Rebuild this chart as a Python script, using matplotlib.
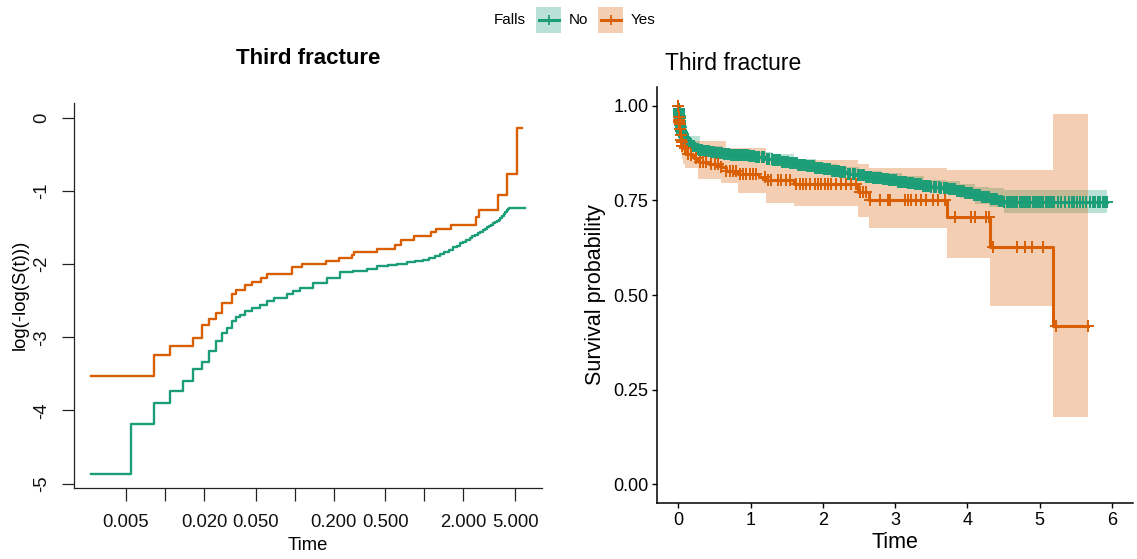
import numpy as np
import matplotlib.pyplot as plt
from matplotlib.patches import Rectangle
from matplotlib.lines import Line2D

plt.rcParams['font.family'] = ['Liberation Sans', 'DejaVu Sans']

W, H = 1137, 559

# Kaplan-Meier estimates for third fracture, split by falls history
no_time = [0.0, 0.0027, 0.0055, 0.0082, 0.011, 0.0137, 0.0164, 0.0192, 0.0218, 0.0247,
           0.0275, 0.030, 0.033, 0.0353, 0.0379, 0.0415, 0.0467, 0.0541, 0.061, 0.0686,
           0.0869, 0.0977, 0.110, 0.139, 0.176, 0.223, 0.283, 0.358, 0.428, 0.52,
           0.62, 0.73, 0.85, 0.97, 1.08, 1.20, 1.31, 1.42, 1.54, 1.66,
           1.77, 1.88, 2.00, 2.11, 2.23, 2.34, 2.46, 2.58, 2.69, 2.81,
           2.92, 3.04, 3.16, 3.27, 3.39, 3.50, 3.62, 3.73, 3.85, 3.96,
           4.08, 4.19, 4.31, 4.42, 4.50]
no_surv = [1.0, 0.9923, 0.9849, 0.9799, 0.9763, 0.9731, 0.9682, 0.9652, 0.9593, 0.9535,
           0.9485, 0.9449, 0.9399, 0.9363, 0.9343, 0.9314, 0.9283, 0.9251, 0.9217, 0.9182,
           0.9138, 0.9107, 0.9067, 0.9005, 0.8934, 0.8859, 0.8835, 0.8803, 0.8765, 0.874,
           0.8725, 0.870, 0.8685, 0.866, 0.8635, 0.860, 0.856, 0.852, 0.8475, 0.8435,
           0.840, 0.8355, 0.832, 0.828, 0.8245, 0.8205, 0.8165, 0.8125, 0.8095, 0.806,
           0.803, 0.7995, 0.7955, 0.7925, 0.789, 0.786, 0.7825, 0.7795, 0.775, 0.769,
           0.763, 0.758, 0.753, 0.749, 0.7457]
no_end = 5.93
no_band_time = [0.0, 0.0027, 0.02, 0.05, 0.1, 0.3, 0.6, 1.0, 1.3, 1.6,
                1.9, 2.2, 2.5, 2.8, 3.1, 3.4, 3.7, 3.9, 4.1, 4.3, 4.5]
no_band_lower = [1.0, 0.987, 0.958, 0.919, 0.900, 0.873, 0.863, 0.855, 0.849, 0.836,
                 0.824, 0.817, 0.805, 0.797, 0.786, 0.774, 0.766, 0.756, 0.741, 0.733,
                 0.717]
no_band_upper = [1.0, 0.997, 0.972, 0.935, 0.920, 0.894, 0.885, 0.877, 0.871, 0.859,
                 0.847, 0.839, 0.828, 0.823, 0.814, 0.804, 0.800, 0.794, 0.785, 0.783,
                 0.776]
no_censor = [0.001, 0.003, 0.005, 0.007, 0.010, 0.013, 0.016, 0.019, 0.023, 0.026,
             0.029, 0.032, 0.036, 0.040, 0.045, 0.050, 0.057, 0.064, 0.072, 0.080,
             0.090, 0.10, 0.12, 0.14, 0.16, 0.18, 0.20, 0.22, 0.25, 0.27,
             0.29, 0.31, 0.33, 0.36, 0.38, 0.40, 0.42, 0.45, 0.47, 0.49,
             0.52, 0.54, 0.56, 0.59, 0.61, 0.63, 0.66, 0.68, 0.70, 0.73,
             0.75, 0.77, 0.80, 0.82, 0.84, 0.87, 0.89, 0.91, 0.94, 0.96,
             0.98, 1.01, 1.03, 1.05, 1.08, 1.10, 1.12, 1.15, 1.17, 1.19,
             1.22, 1.24, 1.26, 1.29, 1.31, 1.33, 1.36, 1.38, 1.40, 1.43,
             1.45, 1.47, 1.50, 1.52, 1.54, 1.57, 1.59, 1.61, 1.64, 1.66,
             1.68, 1.71, 1.73, 1.75, 1.78, 1.80, 1.82, 1.85, 1.87, 1.89,
             1.92, 1.94, 1.96, 1.99, 2.01, 2.03, 2.06, 2.08, 2.10, 2.13,
             2.15, 2.17, 2.20, 2.22, 2.24, 2.27, 2.29, 2.31, 2.34, 2.36,
             2.38, 2.41, 2.43, 2.45, 2.48, 2.50, 2.52, 2.55, 2.57, 2.59,
             2.62, 2.64, 2.66, 2.69, 2.71, 2.73, 2.76, 2.78, 2.80, 2.83,
             2.85, 2.87, 2.90, 2.92, 2.94, 2.97, 2.99, 3.01, 3.04, 3.06,
             3.08, 3.11, 3.13, 3.15, 3.18, 3.20, 3.22, 3.25, 3.27, 3.29,
             3.32, 3.34, 3.36, 3.39, 3.41, 3.43, 3.46, 3.48, 3.50, 3.53,
             3.55, 3.57, 3.60, 3.62, 3.64, 3.67, 3.69, 3.71, 3.74, 3.76,
             3.78, 3.81, 3.83, 3.85, 3.88, 3.90, 3.92, 3.95, 3.97, 3.99,
             4.02, 4.04, 4.06, 4.09, 4.11, 4.13, 4.16, 4.18, 4.20, 4.23,
             4.25, 4.27, 4.30, 4.32, 4.34, 4.37, 4.39, 4.41, 4.44, 4.46,
             4.48, 4.51, 4.54, 4.57, 4.60, 4.63, 4.66, 4.69, 4.72, 4.75,
             4.78, 4.81, 4.84, 4.87, 4.90, 4.93, 4.96, 4.99, 5.02, 5.05,
             5.08, 5.11, 5.14, 5.17, 5.20, 5.25, 5.30, 5.35, 5.41, 5.45,
             5.48, 5.52, 5.55, 5.60, 5.645, 5.69, 5.73, 5.76, 5.80, 5.83,
             5.87, 5.90, 5.93]

yes_time = [0.0, 0.0027, 0.0082, 0.011, 0.0164, 0.0192, 0.0219, 0.0248, 0.0276, 0.033,
            0.0352, 0.041, 0.0467, 0.0547, 0.061, 0.096, 0.1146, 0.173, 0.221, 0.275,
            0.286, 0.428, 0.589, 0.655, 0.830, 1.115, 1.218, 1.60, 2.49, 2.64,
            3.72, 4.31, 5.19]
yes_surv = [1.0, 0.9711, 0.9618, 0.9568, 0.9519, 0.9427, 0.9381, 0.9331, 0.9234, 0.9133,
            0.9090, 0.9037, 0.8990, 0.8941, 0.8890, 0.8781, 0.8734, 0.8686, 0.8629, 0.8572,
            0.8518, 0.8458, 0.8385, 0.8275, 0.8186, 0.8110, 0.8024, 0.7924, 0.7725, 0.7516,
            0.7054, 0.6268, 0.4181]
yes_lower = [1.0, 0.955, 0.943, 0.937, 0.930, 0.919, 0.913, 0.907, 0.895, 0.883,
             0.878, 0.872, 0.866, 0.860, 0.845, 0.836, 0.836, 0.836, 0.836, 0.805,
             0.805, 0.805, 0.797, 0.797, 0.770, 0.770, 0.744, 0.735, 0.707, 0.676,
             0.598, 0.471, 0.177]
yes_upper = [1.0, 0.985, 0.978, 0.974, 0.970, 0.962, 0.958, 0.954, 0.946, 0.938,
             0.934, 0.930, 0.926, 0.922, 0.916, 0.915, 0.915, 0.907, 0.907, 0.907,
             0.907, 0.907, 0.907, 0.889, 0.889, 0.889, 0.863, 0.856, 0.847, 0.836,
             0.831, 0.831, 0.977]
yes_end = 5.67
yes_censor = [0.0, 0.003, 0.006, 0.009, 0.012, 0.018, 0.023, 0.030, 0.038, 0.045,
              0.055, 0.087, 0.133, 0.18, 0.249, 0.295, 0.341, 0.387, 0.456, 0.502,
              0.548, 0.594, 0.664, 0.71, 0.756, 0.802, 0.848, 0.894, 0.94, 0.986,
              1.033, 1.079, 1.194, 1.24, 1.286, 1.379, 1.425, 1.494, 1.54, 1.632,
              1.679, 1.725, 1.771, 1.817, 1.886, 1.932, 1.978, 2.024, 2.07, 2.116,
              2.186, 2.255, 2.325, 2.394, 2.453, 2.509, 2.555, 2.60, 2.647, 2.786,
              2.90, 2.93, 3.131, 3.177, 3.223, 3.293, 3.362, 3.431, 3.523, 3.592,
              3.685, 3.823, 4.054, 4.10, 4.262, 4.298, 4.354, 4.686, 4.79, 4.897,
              5.045, 5.23, 5.668]

green = '#1B9E77'
orange = '#D95F02'


def box(x0, y0, x1, y1):
    # pixel box (top-left origin) -> figure fraction rect
    return [x0 / W, 1 - y1 / H, (x1 - x0) / W, (y1 - y0) / H]


def extend(time, values, end):
    return np.append(time, end), np.append(values, values[-1])


def surv_at(time, surv, at):
    idx = np.searchsorted(time, at, side='right') - 1
    return np.asarray(surv)[idx]


fig = plt.figure(figsize=(W / 100, H / 100), dpi=100)

# ---- left: log(-log(S(t))) against log time
ax1 = fig.add_axes(box(74, 103, 542, 488))
for time, surv, end, col in [(no_time, no_surv, no_end, green),
                             (yes_time, yes_surv, yes_end, orange)]:
    t, s = extend(np.array(time[1:]), np.array(surv[1:]), end)
    ax1.step(t, np.log(-np.log(s)), where='post', color=col, lw=1.7)

ax1.set_xscale('log')
lo, hi = np.log10(min(no_time[1], yes_time[1])), np.log10(max(no_end, yes_end))
pad = 0.04 * (hi - lo)
ax1.set_xlim(10 ** (lo - pad), 10 ** (hi + pad))
ax1.set_ylim(-5.06, 0.205)
xt = [0.005, 0.01, 0.02, 0.05, 0.1, 0.2, 0.5, 1, 2, 5]
xl = ['0.005', '', '0.020', '0.050', '', '0.200', '0.500', '', '2.000', '5.000']
ax1.xaxis.set_major_locator(plt.FixedLocator(xt))
ax1.xaxis.set_minor_locator(plt.NullLocator())
ax1.set_xticklabels(xl)
ax1.set_yticks([-5, -4, -3, -2, -1, 0])
ax1.set_yticklabels(['-5', '-4', '-3', '-2', '-1', '0'], rotation=90, va='center')
for s in ['top', 'right']:
    ax1.spines[s].set_visible(False)
for s in ['left', 'bottom']:
    ax1.spines[s].set_linewidth(0.9)
    ax1.spines[s].set_color('#222222')
ax1.tick_params(axis='both', length=9, width=0.9, color='#222222', labelsize=13.3,
                labelcolor='#111111')
ax1.tick_params(axis='x', pad=10)
ax1.tick_params(axis='y', pad=8)
fig.text(308 / W, 1 - 58 / H, 'Third fracture', ha='center', va='center',
         fontsize=16, fontweight='bold')
fig.text(308 / W, 1 - 545 / H, 'Time', ha='center', va='center', fontsize=13.3)
fig.text(20 / W, 1 - 295 / H, 'log(-log(S(t)))', ha='center', va='center',
         rotation=90, fontsize=13.3)

# ---- right: survival curves with confidence bands and censoring marks
ax2 = fig.add_axes(box(656.7, 86.7, 1133, 503.3))
bt, blo = extend(no_band_time, no_band_lower, no_end)
_, bhi = extend(no_band_time, no_band_upper, no_end)
ax2.fill_between(bt, blo, bhi, step='post', color=green, alpha=0.3, lw=0)
yt, ylo = extend(yes_time, yes_lower, yes_end)
_, yhi = extend(yes_time, yes_upper, yes_end)
ax2.fill_between(yt, ylo, yhi, step='post', color=orange, alpha=0.3, lw=0)

curves = [(no_time, no_surv, no_end, no_censor, green),
          (yes_time, yes_surv, yes_end, yes_censor, orange)]
for time, surv, end, cens, col in curves:
    t, s = extend(time, surv, end)
    ax2.step(t, s, where='post', color=col, lw=2.2)
for time, surv, end, cens, col in curves:
    ax2.plot(cens, surv_at(time, surv, cens), ls='none', marker='+', ms=8,
             mew=1.4, color=col)

ax2.set_xlim(-0.3, 6.29)
ax2.set_ylim(-0.05, 1.05)
ax2.set_xticks(range(7))
ax2.set_yticks([0, 0.25, 0.5, 0.75, 1.0])
ax2.set_yticklabels(['0.00', '0.25', '0.50', '0.75', '1.00'])
for s in ['top', 'right']:
    ax2.spines[s].set_visible(False)
for s in ['left', 'bottom']:
    ax2.spines[s].set_linewidth(1.1)
ax2.tick_params(axis='both', length=3.5, width=1.0, labelsize=13, pad=2.5)
fig.text(895 / W, 1 - 543 / H, 'Time', ha='center', va='center', fontsize=15.5)
fig.text(595 / W, 1 - 295 / H, 'Survival probability', ha='center', va='center',
         rotation=90, fontsize=15.5)
fig.text(665 / W, 1 - 63 / H, 'Third fracture', ha='left', va='center', fontsize=16.5)

# ---- shared legend across the top
fig.text(526 / W, 1 - 20 / H, 'Falls', ha='right', va='center', fontsize=11)
for x0, col, lab in [(536, green, 'No'), (598, orange, 'Yes')]:
    fig.add_artist(Rectangle((x0 / W, 1 - 32.7 / H), 25 / W, 25.4 / H,
                             transform=fig.transFigure, facecolor=col, alpha=0.3, lw=0))
    fig.add_artist(Line2D([(x0 + 2.5) / W, (x0 + 22.5) / W], [1 - 20 / H, 1 - 20 / H],
                          transform=fig.transFigure, color=col, lw=2.2))
    fig.add_artist(Line2D([(x0 + 12.5) / W], [1 - 20 / H], transform=fig.transFigure,
                          ls='none', marker='+', ms=7.5, mew=1.3, color=col))
    fig.text((x0 + 33) / W, 1 - 20 / H, lab, ha='left', va='center', fontsize=11)

fig.savefig('out.png', dpi=100)
